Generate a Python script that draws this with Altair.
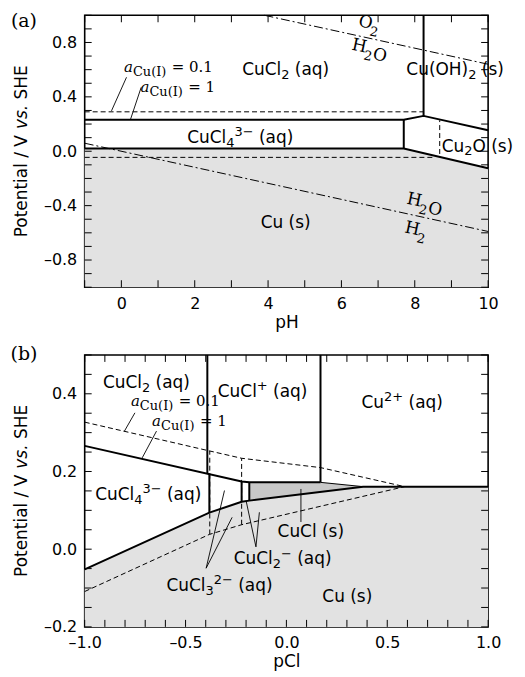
import altair as alt
import pandas as pd
import math

SANS = "DejaVu Sans"
SERIF = "DejaVu Serif"
PW, PH = 405, 273
TICK = 7
BLACK = "#000000"

# ================= Panel (a): potential vs pH =================
a_x_domain = [-1, 10]
a_y_domain = [-1.0, 1.0]
a_x_ticks = [-1, 0, 1, 2, 3, 4, 5, 6, 7, 8, 9, 10]
a_x_labels = [0, 2, 4, 6, 8, 10]
a_y_ticks = [-1.0, -0.9, -0.8, -0.7, -0.6, -0.5, -0.4, -0.3, -0.2, -0.1, 0.0,
             0.1, 0.2, 0.3, 0.4, 0.5, 0.6, 0.7, 0.8, 0.9, 1.0]
a_y_labels = [-0.8, -0.4, 0.0, 0.4, 0.8]

# Cu(s) boundary (a_Cu(I) = 1); region below is shaded
a_cu_pH = [-1, 7.7, 10]
a_cu_E = [0.02, 0.02, -0.125]
a_floor = -1.0
# upper boundary of CuCl4(3-) / Cu2O
a_top_pH = [-1, 7.7, 8.24, 10]
a_top_E = [0.231, 0.231, 0.26, 0.155]
# solid vertical boundaries
a_vert_pH = [7.7, 8.24]
a_vert_E_lo = [0.02, 0.26]
a_vert_E_hi = [0.231, 1.0]
# a_Cu(I) = 0.1 (dashed)
a_dash_up_pH = [-1, 8.24]
a_dash_up_E = [0.29, 0.29]
a_dash_dn_pH = [-1, 8.5]
a_dash_dn_E = [-0.045, -0.045]
a_dash_v_pH = [8.68]
a_dash_v_E_lo = [-0.02]
a_dash_v_E_hi = [0.228]
# water lines (dash-dot)
a_o2_pH = [3.9, 10]
a_o2_E = [1.0, 0.64]
a_h2_pH = [-1, 10]
a_h2_E = [0.059, -0.59]
# labels (_{...} subscript, ^{...} superscript)
a_lab_text = ["CuCl_{2} (aq)", "Cu(OH)_{2} (s)", "CuCl_{4}^{3−} (aq)", "Cu_{2}O (s)", "Cu (s)"]
a_lab_pH = [4.48, 9.1, 3.24, 9.71, 4.48]
a_lab_E = [0.603, 0.603, 0.108, 0.042, -0.522]
a_w_text = ["O_{2}", "H_{2}O", "H_{2}O", "H_{2}"]
a_w_pH = [6.79, 6.79, 8.29, 8.06]
a_w_E = [0.929, 0.733, -0.40, -0.59]
a_act_pH = [0.07, 0.52]
a_act_E = [0.586, 0.439]
a_act_val = ["= 0.1", "= 1"]
a_lead_pH1 = [0.14, 0.54]
a_lead_E1 = [0.544, 0.47]
a_lead_pH2 = [-0.27, 0.25]
a_lead_E2 = [0.297, 0.235]

# ================= Panel (b): potential vs pCl =================
b_x_domain = [-1.0, 1.0]
b_y_domain = [-0.2, 0.5]
b_x_ticks = [-1.0, -0.9, -0.8, -0.7, -0.6, -0.5, -0.4, -0.3, -0.2, -0.1, 0.0,
             0.1, 0.2, 0.3, 0.4, 0.5, 0.6, 0.7, 0.8, 0.9, 1.0]
b_x_labels = [-1.0, -0.5, 0.0, 0.5, 1.0]
b_y_ticks = [-0.2, -0.15, -0.1, -0.05, 0.0, 0.05, 0.1, 0.15, 0.2, 0.25, 0.3,
             0.35, 0.4, 0.45, 0.5]
b_y_labels = [-0.2, 0.0, 0.2, 0.4]

# Cu(s) boundary (a_Cu(I) = 1)
b_cu_pCl = [-1.0, -0.382, -0.222, -0.184, 0.38, 1.0]
b_cu_E = [-0.052, 0.094, 0.122, 0.125, 0.161, 0.161]
b_floor = -0.2
# CuCl(s) region
b_cucl_pCl = [-0.184, 0.169, 0.38]
b_cucl_top = [0.172, 0.172, 0.161]
b_cucl_bot = [0.125, 0.148, 0.161]
# upper Cu(I)/Cu(II) boundary (a_Cu(I) = 1)
b_top_pCl = [-1.0, -0.222, -0.184, 0.169]
b_top_E = [0.266, 0.174, 0.172, 0.172]
b_thin_pCl = [0.169, 0.38]
b_thin_E = [0.172, 0.161]
# solid verticals
b_vert_pCl = [-0.392, -0.382, -0.222, -0.184, 0.169]
b_vert_E_lo = [0.195, 0.094, 0.122, 0.125, 0.172]
b_vert_E_hi = [0.5, 0.195, 0.174, 0.172, 0.5]
# a_Cu(I) = 0.1 (dashed)
b_dash_up_pCl = [-1.0, -0.382, -0.222, 0.169, 0.586]
b_dash_up_E = [0.327, 0.253, 0.234, 0.21, 0.161]
b_dash_dn_pCl = [-1.0, -0.382, -0.222, 0.586]
b_dash_dn_E = [-0.109, 0.038, 0.063, 0.161]
b_dash_v_pCl = [-0.38, -0.222]
b_dash_v_E_lo = [0.038, 0.063]
b_dash_v_E_hi = [0.253, 0.234]
# labels
b_lab_text = ["CuCl_{2} (aq)", "CuCl^{+} (aq)", "Cu^{2+} (aq)", "CuCl_{4}^{3−} (aq)",
              "CuCl (s)", "CuCl_{2}^{−} (aq)", "CuCl_{3}^{2−} (aq)", "Cu (s)"]
b_lab_pCl = [-0.694, -0.118, 0.574, -0.685, 0.121, -0.019, -0.332, 0.302]
b_lab_E = [0.431, 0.406, 0.380, 0.142, 0.047, -0.024, -0.092, -0.12]
b_act_pCl = [-0.771, -0.666]
b_act_E = [0.368, 0.317]
b_act_val = ["= 0.1", "= 1"]
b_lead_pCl1 = [-0.751, -0.644, -0.398, -0.398, -0.151, -0.151, 0.072]
b_lead_E1 = [0.351, 0.304, -0.049, -0.049, 0.006, 0.006, 0.155]
b_lead_pCl2 = [-0.804, -0.715, -0.307, -0.269, -0.2, -0.134, 0.072]
b_lead_E2 = [0.303, 0.235, 0.151, 0.082, 0.125, 0.095, 0.07]

# y-axis title pieces (text, italic?)
y_title_parts = [("Potential / V ", False), ("vs.", True), (" SHE", False)]

# approximate advance widths (em) used to lay out mixed-style text pieces
SANS_W = {" ": .318, "(": .390, ")": .390, "C": .698, "u": .634, "l": .278,
          "a": .613, "q": .635, "s": .521, "O": .787, "H": .752, "+": .838,
          "−": .838, "P": .603, "o": .612, "t": .392, "e": .615, "n": .634,
          "i": .278, "/": .337, "V": .684, "v": .592, ".": .318, "S": .635,
          "E": .632}
SERIF_W = {" ": .318, "H": .872, "O": .820, "+": .838, "−": .838}
for _d in "0123456789":
    SANS_W[_d] = .636
    SERIF_W[_d] = .636


def parse_rich(s):
    pieces, buf, i = [], "", 0
    while i < len(s):
        if s[i] in "_^" and i + 1 < len(s) and s[i + 1] == "{":
            if buf:
                pieces.append((buf, "n"))
                buf = ""
            j = s.index("}", i)
            pieces.append((s[i + 2:j], "b" if s[i] == "_" else "p"))
            i = j + 1
        else:
            buf += s[i]
            i += 1
    if buf:
        pieces.append((buf, "n"))
    return pieces


def lines_df(*polys):
    rows = []
    for i, (xs, ys) in enumerate(polys):
        for j, (x, y) in enumerate(zip(xs, ys)):
            rows.append({"id": i, "o": j, "x": x, "y": y})
    return pd.DataFrame(rows)


NEG_EXPR = "datum.value < 0 ? '–' + format(-datum.value, '.1f') : format(datum.value, '.1f')"


def make_panel(p):
    xs = alt.Scale(domain=p["xdom"], nice=False, zero=False)
    ys = alt.Scale(domain=p["ydom"], nice=False, zero=False)
    xaxis = alt.Axis(values=p["xlab"], ticks=False, domain=False, grid=False,
                     labelExpr=p["xexpr"], labelFont=SANS, labelFontSize=16,
                     labelPadding=8, labelFlush=False, labelOverlap=False,
                     labelColor=BLACK, title=p["xtitle"], titleFont=SANS,
                     titleFontSize=17, titleFontWeight="normal", titlePadding=3,
                     titleColor=BLACK)
    yaxis = alt.Axis(values=p["ylab"], ticks=False, domain=False, grid=False,
                     labelExpr=NEG_EXPR, labelFont=SANS, labelFontSize=16,
                     labelPadding=8, labelFlush=False, labelOverlap=False,
                     labelColor=BLACK, title=None)

    def X(f="x"):
        return alt.X(f"{f}:Q", scale=xs, axis=xaxis)

    def Y(f="y"):
        return alt.Y(f"{f}:Q", scale=ys, axis=yaxis)

    def rich_layers(xv, yv, label, font, size, widths, angle=0):
        small = round(size * 0.76)
        pieces = parse_rich(label)
        sizes = [size if k == "n" else small for _, k in pieces]
        wid = [sum(widths.get(ch, .6) for ch in t) * sz for (t, _), sz in zip(pieces, sizes)]
        total = sum(wid)
        th = math.radians(angle)
        out, u = [], -total / 2
        for (t, k), sz, w in zip(pieces, sizes, wid):
            lead = len(t) - len(t.lstrip(" "))
            uu = u + lead * widths[" "] * sz
            t2 = t.strip(" ")
            v = 6 if k == "n" else (10 if k == "b" else -1)
            dx = uu * math.cos(th) - v * math.sin(th)
            dy = uu * math.sin(th) + v * math.cos(th)
            d = pd.DataFrame({"x": [xv], "y": [yv], "t": [t2]})
            out.append(alt.Chart(d).mark_text(
                font=font, fontSize=sz, color=BLACK, align="left", baseline="alphabetic",
                dx=round(dx, 2), dy=round(dy, 2), angle=angle).encode(
                x=X(), y=Y(), text="t:N"))
            u += w
        return out

    layers = []
    cu = pd.DataFrame({"x": p["cu_x"], "y": p["cu_y"], "y2": [p["floor"]] * len(p["cu_x"])})
    layers.append(alt.Chart(cu).mark_area(color="#e2e2e2").encode(
        x=X(), y=Y(), y2="y2:Q"))
    if "dark_x" in p:
        dk = pd.DataFrame({"x": p["dark_x"], "y": p["dark_top"], "y2": p["dark_bot"]})
        layers.append(alt.Chart(dk).mark_area(color="#c8c8c8").encode(
            x=X(), y=Y(), y2="y2:Q"))
    # dashed a = 0.1 lines
    layers.append(alt.Chart(lines_df(*p["dash_lines"])).mark_line(
        color=BLACK, strokeWidth=1, strokeDash=[5, 3]).encode(
        x=X(), y=Y(), detail="id:N", order="o:Q"))
    dv = pd.DataFrame({"x": p["dash_v_x"], "y": p["dash_v_lo"], "y2": p["dash_v_hi"]})
    layers.append(alt.Chart(dv).mark_rule(color=BLACK, strokeWidth=1, strokeDash=[5, 3]).encode(
        x=X(), y=Y(), y2="y2:Q"))
    if "water" in p:
        layers.append(alt.Chart(lines_df(*p["water"])).mark_line(
            color=BLACK, strokeWidth=1, strokeDash=[9, 3, 2, 3]).encode(
            x=X(), y=Y(), detail="id:N", order="o:Q"))
    if "thin" in p:
        layers.append(alt.Chart(lines_df(*p["thin"])).mark_line(
            color=BLACK, strokeWidth=1).encode(x=X(), y=Y(), detail="id:N", order="o:Q"))
    # thick boundaries
    layers.append(alt.Chart(lines_df(*p["thick"])).mark_line(
        color=BLACK, strokeWidth=2).encode(x=X(), y=Y(), detail="id:N", order="o:Q"))
    vv = pd.DataFrame({"x": p["vert_x"], "y": p["vert_lo"], "y2": p["vert_hi"]})
    layers.append(alt.Chart(vv).mark_rule(color=BLACK, strokeWidth=2).encode(
        x=X(), y=Y(), y2="y2:Q"))
    # leader lines
    ld = pd.DataFrame({"x": p["lead_x1"], "y": p["lead_y1"], "x2": p["lead_x2"], "y2": p["lead_y2"]})
    layers.append(alt.Chart(ld).mark_rule(color=BLACK, strokeWidth=0.9).encode(
        x=X(), y=Y(), x2="x2:Q", y2="y2:Q"))
    # region labels with sub/superscripts
    for xv, yv, t in zip(p["lab_x"], p["lab_y"], p["lab_t"]):
        layers += rich_layers(xv, yv, t, SANS, 17, SANS_W)
    if "w_t" in p:
        for xv, yv, t in zip(p["w_x"], p["w_y"], p["w_t"]):
            layers += rich_layers(xv, yv, t, SERIF, 17, SERIF_W, angle=12)
    # activity labels: a_Cu(I) = value
    ac = pd.DataFrame({"x": p["act_x"], "y": p["act_y"], "v": p["act_v"],
                       "s": ["a"] * len(p["act_x"]), "c": ["Cu(I)"] * len(p["act_x"])})
    layers.append(alt.Chart(ac).mark_text(font=SERIF, fontSize=15, fontStyle="italic",
                                          color=BLACK, align="left", baseline="alphabetic").encode(
        x=X(), y=Y(), text="s:N"))
    layers.append(alt.Chart(ac).mark_text(font=SERIF, fontSize=13, color=BLACK, dx=9, dy=4,
                                          align="left", baseline="alphabetic").encode(
        x=X(), y=Y(), text="c:N"))
    layers.append(alt.Chart(ac).mark_text(font=SERIF, fontSize=15, color=BLACK, dx=48,
                                          align="left", baseline="alphabetic").encode(
        x=X(), y=Y(), text="v:N"))
    # inward ticks on all four sides
    xt = pd.DataFrame({"x": p["xticks"]})
    yt = pd.DataFrame({"y": p["yticks"]})
    layers.append(alt.Chart(xt).mark_rule(color=BLACK, strokeWidth=1).encode(
        x=X(), y=alt.value(0), y2=alt.value(TICK)))
    layers.append(alt.Chart(xt).mark_rule(color=BLACK, strokeWidth=1).encode(
        x=X(), y=alt.value(PH), y2=alt.value(PH - TICK)))
    layers.append(alt.Chart(yt).mark_rule(color=BLACK, strokeWidth=1).encode(
        y=Y(), x=alt.value(0), x2=alt.value(TICK)))
    layers.append(alt.Chart(yt).mark_rule(color=BLACK, strokeWidth=1).encode(
        y=Y(), x=alt.value(PW), x2=alt.value(PW - TICK)))
    # y-axis title with italic "vs." (rotated, reading upward)
    tsize = 17
    tw = [sum(SANS_W.get(ch, .6) for ch in t) * tsize for t, _ in y_title_parts]
    pos = PH / 2 + sum(tw) / 2
    for (t, ital), w in zip(y_title_parts, tw):
        lead = len(t) - len(t.lstrip(" "))
        start = pos - lead * SANS_W[" "] * tsize
        d = pd.DataFrame({"t": [t.strip(" ")]})
        layers.append(alt.Chart(d).mark_text(
            font=SANS, fontSize=tsize, color=BLACK, align="left", baseline="middle",
            angle=270, fontStyle="italic" if ital else "normal").encode(
            x=alt.value(-63), y=alt.value(round(start, 2)), text="t:N"))
        pos -= w
    # panel tag
    tag = pd.DataFrame({"t": [p["tag"]]})
    layers.append(alt.Chart(tag).mark_text(font=SERIF, fontSize=19, color=BLACK,
                                           align="center", baseline="middle").encode(
        x=alt.value(-61), y=alt.value(p["tag_y"]), text="t:N"))
    return alt.layer(*layers).properties(width=PW, height=PH)


panel_a = make_panel({
    "xdom": a_x_domain, "ydom": a_y_domain, "xlab": a_x_labels, "ylab": a_y_labels,
    "xexpr": "format(datum.value, 'd')", "xtitle": "pH",
    "xticks": a_x_ticks, "yticks": a_y_ticks,
    "cu_x": a_cu_pH, "cu_y": a_cu_E, "floor": a_floor,
    "dash_lines": [(a_dash_up_pH, a_dash_up_E), (a_dash_dn_pH, a_dash_dn_E)],
    "dash_v_x": a_dash_v_pH, "dash_v_lo": a_dash_v_E_lo, "dash_v_hi": a_dash_v_E_hi,
    "water": [(a_o2_pH, a_o2_E), (a_h2_pH, a_h2_E)],
    "thick": [(a_cu_pH, a_cu_E), (a_top_pH, a_top_E)],
    "vert_x": a_vert_pH, "vert_lo": a_vert_E_lo, "vert_hi": a_vert_E_hi,
    "lead_x1": a_lead_pH1, "lead_y1": a_lead_E1, "lead_x2": a_lead_pH2, "lead_y2": a_lead_E2,
    "lab_x": a_lab_pH, "lab_y": a_lab_E, "lab_t": a_lab_text,
    "w_x": a_w_pH, "w_y": a_w_E, "w_t": a_w_text,
    "act_x": a_act_pH, "act_y": a_act_E, "act_v": a_act_val,
    "tag": "(a)", "tag_y": 6,
})

panel_b = make_panel({
    "xdom": b_x_domain, "ydom": b_y_domain, "xlab": b_x_labels, "ylab": b_y_labels,
    "xexpr": NEG_EXPR, "xtitle": "pCl",
    "xticks": b_x_ticks, "yticks": b_y_ticks,
    "cu_x": b_cu_pCl, "cu_y": b_cu_E, "floor": b_floor,
    "dark_x": b_cucl_pCl, "dark_top": b_cucl_top, "dark_bot": b_cucl_bot,
    "dash_lines": [(b_dash_up_pCl, b_dash_up_E), (b_dash_dn_pCl, b_dash_dn_E)],
    "dash_v_x": b_dash_v_pCl, "dash_v_lo": b_dash_v_E_lo, "dash_v_hi": b_dash_v_E_hi,
    "thin": [(b_thin_pCl, b_thin_E)],
    "thick": [(b_cu_pCl, b_cu_E), (b_top_pCl, b_top_E)],
    "vert_x": b_vert_pCl, "vert_lo": b_vert_E_lo, "vert_hi": b_vert_E_hi,
    "lead_x1": b_lead_pCl1, "lead_y1": b_lead_E1, "lead_x2": b_lead_pCl2, "lead_y2": b_lead_E2,
    "lab_x": b_lab_pCl, "lab_y": b_lab_E, "lab_t": b_lab_text,
    "act_x": b_act_pCl, "act_y": b_act_E, "act_v": b_act_val,
    "tag": "(b)", "tag_y": -1,
})

chart = alt.vconcat(panel_a, panel_b, spacing=13).properties(
    padding={"left": 1, "top": 2, "right": 2, "bottom": 2}
).configure_view(stroke=BLACK, strokeWidth=1.6)

chart.save("out.html", embed_options={"renderer": "svg", "actions": False})
